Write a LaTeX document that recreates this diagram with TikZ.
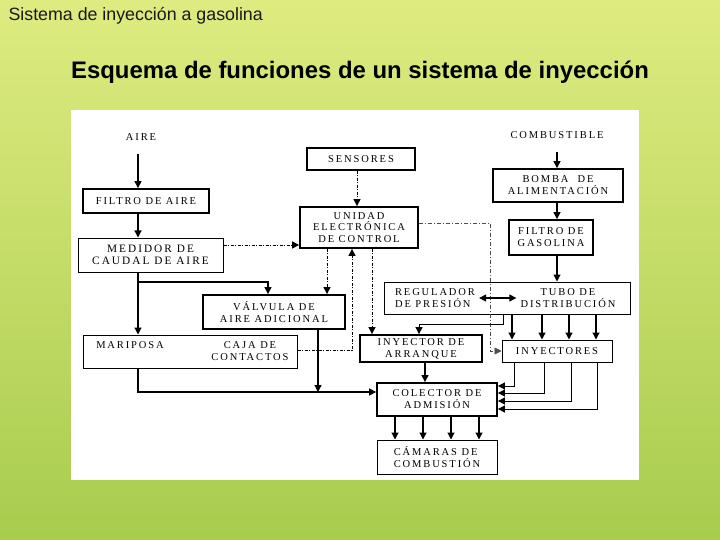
\documentclass[tikz,border=0pt]{standalone}
\usepackage{fontspec}
\setmainfont{Liberation Serif}
\newfontfamily\sansf{Liberation Sans}
\newfontfamily\dfont{Liberation Serif}[LetterSpace=18]
\usetikzlibrary{arrows.meta,calc}
\definecolor{bgtop}{HTML}{DEEB80}
\definecolor{bgbot}{HTML}{A8CC4E}
\tikzset{
  tip/.tip={Triangle[length=7pt,width=7pt]},
  box/.style={draw=black, line width=1pt, fill=white, inner sep=0pt, align=center,
    font=\dfont\fontsize{10.5}{12}\selectfont},
  thickbox/.style={box, line width=1.8pt},
  dtext/.style={inner sep=1pt, font=\dfont\fontsize{10.5}{12}\selectfont},
  con/.style={line width=1.2pt, -tip},
  thincon/.style={line width=0.9pt, -tip},
  dd/.style={line width=1pt, dash pattern=on 3pt off 1.5pt on 1pt off 1.5pt, -tip},
  ddthin/.style={line width=0.6pt, draw=black!70, dash pattern=on 4pt off 2pt on 1pt off 2pt, -tip},
}
\begin{document}
\begin{tikzpicture}[x=1pt,y=-1pt]
\useasboundingbox (0,0) rectangle (720,540);
\begin{scope}[yscale=-1]
  \shade[top color=bgtop, bottom color=bgbot] (0,0) rectangle (720,-540);
\end{scope}
\fill[white] (71,110) rectangle (639,480);

\node[anchor=west, text=black!90, font=\sansf\fontsize{17.8}{20}\selectfont] (t1) at (5,16) {Sistema de inyección a gasolina};
\node[font=\sansf\bfseries\fontsize{23.9}{28}\selectfont] (t2) at (360,72) {Esquema de funciones de un sistema de inyección};

% column / row coordinates
\coordinate (cA) at (138,0);
\coordinate (cV) at (268,0);
\coordinate (cVb) at (318,0);
\coordinate (cU1) at (327,0);
\coordinate (cU2) at (352,0);
\coordinate (cU3) at (372,0);
\coordinate (cS) at (357,0);
\coordinate (cD) at (490,0);
\coordinate (cF) at (557,0);
\coordinate (cT) at (503,0);
\coordinate (cJ) at (419,0);
\coordinate (cI) at (425,0);
\coordinate (r223) at (0,223);
\coordinate (r245) at (0,245);
\coordinate (r282) at (0,282);
\coordinate (r324) at (0,324);
\coordinate (r350) at (0,350);
\coordinate (r392) at (0,392);

% labels
\node[dtext] (aire) at (141,137) {AIRE};
\node[dtext] (comb) at (557,135) {COMBUSTIBLE};
\coordinate (airein) at (138,154);
\coordinate (combin) at (557,152);

% boxes
\node[thickbox, minimum width=126pt, minimum height=24pt] (filtroaire) at (146,201) {FILTRO DE AIRE};
\node[box, minimum width=145pt, minimum height=34pt, font=\dfont\fontsize{11.3}{12.5}\selectfont] (medidor) at (150.5,255) {MEDIDOR DE\\CAUDAL DE AIRE};
\node[box, line width=1.3pt, minimum width=108pt, minimum height=22pt] (sensores) at (361,159) {SENSORES};
\node[thickbox, minimum width=118pt, minimum height=41pt, font=\dfont\fontsize{10.5}{11.8}\selectfont] (uec) at (359,227.5) {UNIDAD\\ELECTRÓNICA\\DE CONTROL};
\node[thickbox, minimum width=130pt, minimum height=33pt] (bomba) at (558,185.5) {BOMBA \ DE\\ALIMENTACIÓN};
\node[thickbox, minimum width=84pt, minimum height=35pt] (filtrogas) at (551,237.5) {FILTRO DE\\GASOLINA};
\node[box, minimum width=246pt, minimum height=32pt] (regtubo) at (507,298) {};
\node[dtext, align=left] (reg) at (435,298) {REGULADOR\\DE PRESIÓN};
\node[dtext, align=center] (tubo) at (568,298) {TUBO DE\\DISTRIBUCIÓN};
\node[thickbox, minimum width=142pt, minimum height=34pt] (valvula) at (274,312) {VÁLVULA DE\\AIRE ADICIONAL};
\node[box, minimum width=214pt, minimum height=33pt] (mariposa) at (190,351.5) {};
\node[dtext] (marip) at (130,345) {MARIPOSA};
\node[dtext, align=center] (caja) at (250,351) {CAJA DE\\CONTACTOS};
\node[thickbox, minimum width=122pt, minimum height=27pt] (inyarr) at (421,348.5) {INYECTOR DE\\ARRANQUE};
\node[box, minimum width=110pt, minimum height=22pt] (inyectores) at (557,351) {INYECTORES};
\node[thickbox, minimum width=120pt, minimum height=33pt] (colector) at (437,399.5) {COLECTOR DE\\ADMISIÓN};
\node[box, minimum width=120pt, minimum height=34pt, align=left] (camaras) at (437,457) {CÁMARAS DE\\COMBUSTIÓN};

% air path
\draw[con] (airein) -- (airein |- filtroaire.north);
\draw[con] (filtroaire.south -| cA) -- (medidor.north -| cA);
\draw[con] (medidor.south -| cA) -- (mariposa.north -| cA);
\draw[con] (cA |- r282) -| (valvula.north -| cV);
\draw[con] (valvula.south -| cVb) -- (cVb |- r392);
\draw[con] (mariposa.south -| cA) |- (colector.west |- r392);

% control signals
\draw[dd] (medidor.east |- r245) -- (uec.west |- r245);
\draw[dd] (sensores.south -| cS) -- (uec.north -| cS);
\draw[dd] (uec.south -| cU1) -- (valvula.north -| cU1);
\draw[dd] (mariposa.east |- r350) -| (uec.south -| cU2);
\draw[dd] (uec.south -| cU3) -- (inyarr.north -| cU3);
\draw[ddthin] (uec.east |- r223) -| (cD |- inyectores.west) -- (inyectores.west);

% fuel path
\draw[con] (combin) -- (combin |- bomba.north);
\draw[con] (bomba.south -| cF) -- (filtrogas.north -| cF);
\draw[con] (filtrogas.south -| cF) -- (regtubo.north -| cF);
\draw[line width=1.2pt, tip-tip] (reg.east) ++(3,0) -- ($(tubo.west)+(-3,0)$);
\draw[thincon] (regtubo.south -| cT) |- (cJ |- r324) -- (inyarr.north -| cJ);
\foreach \x [count=\i] in {512,542,569,596} {
  \coordinate (tu\i) at (\x,0);
  \draw[con] (regtubo.south -| tu\i) -- (inyectores.north -| tu\i);
}
\foreach \x/\y [count=\i] in {514/386,544/393,571/401,597/409} {
  \coordinate (ix\i) at (\x,\y);
  \draw[thincon] (inyectores.south -| ix\i) |- (colector.east |- ix\i);
}
\draw[con] (inyarr.south -| cI) -- (colector.north -| cI);
\foreach \x [count=\i] in {395,423,451,479} {
  \coordinate (cc\i) at (\x,0);
  \draw[con] (colector.south -| cc\i) -- (camaras.north -| cc\i);
}
\end{tikzpicture}
\end{document}
